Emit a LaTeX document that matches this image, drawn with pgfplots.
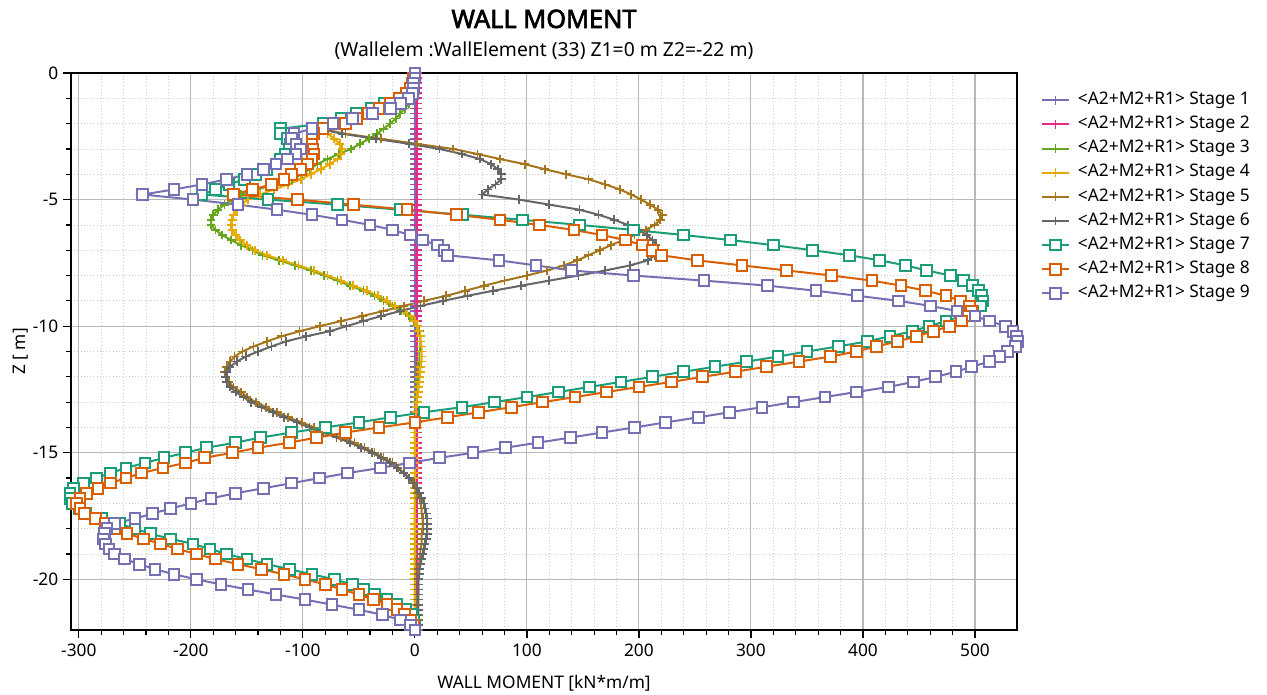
\documentclass[border=0pt]{standalone}
\usepackage{fontspec}
\setmainfont{Noto Sans}
\newfontfamily\titlefont{Noto Sans}[FakeBold=2.5]
\usepackage{pgfplots}
\usepackage{pgfplotstable}
\pgfplotsset{compat=1.18}
\definecolor{cA}{HTML}{7570B3}
\definecolor{cB}{HTML}{E7298A}
\definecolor{cC}{HTML}{66A61E}
\definecolor{cD}{HTML}{E6AB02}
\definecolor{cE}{HTML}{A6761D}
\definecolor{cF}{HTML}{666666}
\definecolor{cG}{HTML}{1B9E77}
\definecolor{cH}{HTML}{D95F02}
\pgfplotstableread{
z s1 s2 s3 s4 s5 s6 s7 s8 s9
0 0 2 0 0 0 0 0 0 0
-0.2 0 2 0 -1 -1 -1 -1 -1 0
-0.4 0 2 0 -2 -2 -2 -2 -2 -1
-0.6 0 2 0 -4 -4 -4 -4 -4 -1
-0.8 0 2 -1 -7 -7 -7 -7 -8 -2
-1.0 0 2 -3 -11 -11 -11 -11 -14 -6
-1.2 0 2 -5 -24 -24 -24 -27 -22 -13
-1.4 0 2 -9 -37 -37 -37 -39 -32 -22
-1.6 0 2 -13 -50 -50 -50 -52 -42 -38
-1.8 0 2 -17 -63 -63 -63 -66 -52 -56
-2.0 0 2 -22 -76 -76 -76 -82 -62 -73
-2.2 0 2 -28 -82 -84 -86 -120 -82 -92
-2.4 0 2 -34 -78 -62 -65 -120 -90 -108
-2.6 0 2 -41 -72 -30 -35 -114 -92 -110
-2.8 0 2 -49 -67 2 -5 -111 -92 -106
-3.0 0 2 -57 -65 34 22 -112 -91 -102
-3.2 0 2 -68 -66 56 42 -116 -90 -106
-3.4 0 2 -78 -69 76 58 -120 -92 -114
-3.6 0 2 -87 -76 98 68 -124 -96 -124
-3.8 0 2 -94 -84 116 74 -132 -102 -135
-4.0 0 2 -101 -93 135 77 -142 -110 -150
-4.2 0 2 -110 -102 155 77 -152 -117 -168
-4.4 0 2 -124 -113 170 72 -166 -128 -190
-4.6 0 2 -141 -126 183 65 -178 -145 -215
-4.8 0 2 -155 -138 193 60 -190 -162 -243
-5.0 0 2 -163 -149 202 93 -131 -105 -198
-5.2 0 2 -170 -155 210 120 -69 -55 -158
-5.4 0 2 -176 -159 217 147 -13 -7 -123
-5.6 0 2 -180 -162 221 164 43 37 -92
-5.8 0 2 -182 -163 219 178 96 76 -65
-6.0 0 2 -182 -164 214 190 147 111 -40
-6.2 0 2 -178 -163 206 200 195 142 -20
-6.4 0 2 -172 -160 196 207 240 167 -4
-6.6 0 2 -164 -156 186 212 282 188 7
-6.8 0 2 -155 -150 175 215 320 203 20
-7.0 0 2 -145 -143 165 216 355 212 26
-7.2 0 2 -136 -132 155 214 388 220 29
-7.4 0 2 -121 -118 145 208 415 252 75
-7.6 0 2 -107 -104 133 192 438 292 108
-7.8 0 2 -93 -90 118 170 457 332 140
-8.0 0 2 -81 -78 100 146 478 372 195
-8.2 0 2 -69 -66 80 120 490 408 258
-8.4 0 2 -58 -55 62 95 498 434 315
-8.6 0 2 -46 -43 45 70 503 456 358
-8.8 0 2 -36 -33 28 47 506 474 395
-9.0 0 2 -28 -25 8 25 507 487 432
-9.2 0 2 -20 -18 -10 5 505 495 460
-9.4 0 2 -12 -10 -28 -13 498 497 484
-9.6 0 2 -5 -4 -47 -30 488 494 500
-9.8 0 2 -1 0 -66 -46 474 488 513
-10.0 0 2 2 2 -85 -61 459 477 527
-10.2 0 2 4 3 -103 -76 444 463 534
-10.4 0 2 5 5 -119 -97 424 448 537
-10.6 0 2 5 5 -132 -115 404 431 538
-10.8 0 2 5 6 -144 -128 378 412 536
-11.0 0 2 4 6 -154 -140 350 394 529
-11.2 0 2 4 6 -161 -151 324 371 522
-11.4 0 2 4 6 -165 -159 296 343 513
-11.6 0 2 3 5 -168 -165 268 314 497
-11.8 0 2 3 5 -170 -168 240 286 483
-12.0 0 2 3 4 -169 -169 212 257 465
-12.2 0 2 2 4 -166 -168 184 229 445
-12.4 0 2 2 3 -162 -165 156 200 423
-12.6 0 2 2 3 -155 -160 128 171 394
-12.8 0 2 1 2 -150 -153 100 143 366
-13.0 0 2 1 2 -142 -146 71 114 338
-13.2 0 2 1 1 -133 -137 42 86 310
-13.4 0 2 1 1 -123 -127 8 57 281
-13.6 0 2 1 1 -113 -117 -22 29 253
-13.8 0 2 0 0 -101 -105 -50 0 224
-14.0 0 2 0 0 -90 -94 -80 -32 196
-14.2 0 2 0 0 -78 -82 -110 -62 167
-14.4 0 2 0 0 -66 -70 -138 -88 139
-14.6 0 2 0 0 -54 -58 -160 -112 110
-14.8 0 2 0 0 -45 -48 -186 -140 81
-15.0 0 2 0 0 -36 -38 -205 -163 52
-15.2 0 2 0 0 -28 -30 -224 -188 22
-15.4 0 2 0 0 -20 -22 -241 -205 -5
-15.6 0 2 0 0 -15 -16 -258 -225 -31
-15.8 0 2 0 0 -10 -10 -272 -244 -60
-16.0 0 2 0 0 -5 -5 -284 -258 -85
-16.2 0 2 0 0 -2 -1 -296 -272 -110
-16.4 0 2 0 0 1 2 -305 -283 -135
-16.6 0 2 0 0 2 4 -308 -293 -160
-16.8 0 2 0 0 4 6 -308 -299 -182
-17.0 0 2 0 0 5 8 -306 -302 -200
-17.2 0 2 0 0 6 9 -300 -299 -218
-17.4 0 2 0 0 6 10 -294 -295 -234
-17.6 0 2 0 0 7 11 -280 -285 -250
-17.8 0 2 0 0 7 11 -264 -276 -268
-18.0 0 2 0 0 7 11 -250 -268 -275
-18.2 0 2 0 0 6 11 -236 -257 -277
-18.4 0 2 0 0 6 10 -218 -242 -278
-18.6 0 2 0 0 6 9 -198 -227 -276
-18.8 0 2 0 0 5 8 -183 -212 -273
-19.0 0 2 0 0 5 7 -168 -195 -268
-19.2 0 2 0 0 4 6 -150 -178 -259
-19.4 0 2 0 0 4 5 -132 -158 -246
-19.6 0 2 0 0 3 4 -112 -137 -232
-19.8 0 2 0 0 3 4 -92 -117 -215
-20.0 0 2 0 0 3 3 -72 -98 -195
-20.2 0 2 0 0 3 3 -56 -80 -173
-20.4 0 2 0 0 3 3 -46 -65 -149
-20.6 0 2 0 0 3 3 -36 -50 -124
-20.8 0 2 0 0 2 3 -25 -37 -98
-21.0 0 2 0 0 2 3 -16 -25 -74
-21.2 0 2 0 0 2 3 -8 -16 -50
-21.4 0 2 0 0 2 3 -3 -9 -29
-21.6 0 2 0 0 2 3 -1 -4 -13
-21.8 0 2 0 0 2 3 0 -1 -4
-22.0 0 2 0 0 2 3 0 0 0
}\datatable
\begin{document}
\begin{tikzpicture}
\begin{axis}[
  at={(53.25pt,48.75pt)}, anchor=south west,
  scale only axis, width=709.5pt, height=417.75pt,
  xmin=-307, xmax=537.5, ymin=-22, ymax=0,
  xtick={-300,-200,...,500}, ytick={-20,-15,-10,-5,0},
  minor x tick num=4, minor y tick num=4,
  grid=both,
  major grid style={color=black!28, line width=0.8pt},
  minor grid style={color=black!20, dotted, line width=0.6pt},
  tick align=outside, xtick pos=bottom, ytick pos=left,
  major tick length=6pt, minor tick length=4pt,
  every tick/.style={black, line width=0.9pt},
  axis line style={black, line width=1pt},
  ticklabel style={font=\fontsize{13}{15}\selectfont},
  xticklabel style={yshift=-1pt},
  /pgf/number format/assume math mode=true,
  /pgf/number format/1000 sep={},
  clip=false,
  every axis plot/.append style={line width=1.5pt},
  legend cell align=left,
  legend image code/.code={\draw[mark repeat=2,mark phase=2,#1] plot coordinates {(0pt,0pt) (10pt,0pt) (20pt,0pt)};},
  legend style={at={(rel axis cs:1,1)}, anchor=north west, xshift=18pt, yshift=-14pt,
    draw=none, fill=none, inner sep=0pt, row sep=5.6pt,
    font=\fontsize{13}{15}\selectfont,
    nodes={inner sep=0pt, text height=9.5pt, text depth=3pt},
    /tikz/every odd column/.append style={column sep=6pt}},
  plusm/.style={mark=+, mark size=3.3pt, mark options={solid, line width=1.3pt}},
  sqm/.style={mark=square*, mark size=4pt, mark options={solid, fill=white, line width=1.5pt}},
]
\addplot[cA, plusm] table[x=s1, y=z] {\datatable};
\addlegendentry{<A2+M2+R1> Stage 1}
\addplot[cB, plusm] table[x=s2, y=z] {\datatable};
\addlegendentry{<A2+M2+R1> Stage 2}
\addplot[cC, plusm] table[x=s3, y=z] {\datatable};
\addlegendentry{<A2+M2+R1> Stage 3}
\addplot[cD, plusm] table[x=s4, y=z] {\datatable};
\addlegendentry{<A2+M2+R1> Stage 4}
\addplot[cE, plusm] table[x=s5, y=z] {\datatable};
\addlegendentry{<A2+M2+R1> Stage 5}
\addplot[cF, plusm] table[x=s6, y=z] {\datatable};
\addlegendentry{<A2+M2+R1> Stage 6}
\addplot[cG, sqm] table[x=s7, y=z] {\datatable};
\addlegendentry{<A2+M2+R1> Stage 7}
\addplot[cH, sqm] table[x=s8, y=z] {\datatable};
\addlegendentry{<A2+M2+R1> Stage 8}
\addplot[cA, sqm] table[x=s9, y=z] {\datatable};
\addlegendentry{<A2+M2+R1> Stage 9}
\node[anchor=base, font=\titlefont\fontsize{19}{23}\selectfont] at (rel axis cs:0.5,1) [yshift=33.75pt] {WALL MOMENT};
\node[anchor=base, font=\fontsize{14.5}{17}\selectfont] at (rel axis cs:0.5,1) [yshift=12pt] {(Wallelem :WallElement (33) Z1=0 m Z2=-22 m)};
\node[anchor=base, font=\fontsize{13}{15}\selectfont] at (rel axis cs:0.5,0) [yshift=-44pt] {WALL MOMENT [kN*m/m]};
\node[xshift=-38pt, rotate=90, anchor=center, font=\fontsize{13}{15}\selectfont] at (rel axis cs:0,0.5) {Z [ m]};
\end{axis}
\pgfresetboundingbox
\path[use as bounding box] (0,0) rectangle (950.25pt,521.25pt);
\end{tikzpicture}
\end{document}
